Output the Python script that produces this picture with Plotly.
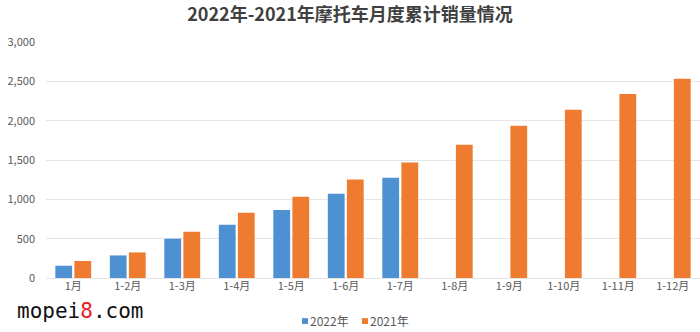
import plotly.graph_objects as go

# Monthly cumulative motorcycle sales (units shown on axis as plain numbers)
categories = ["1月", "1-2月", "1-3月", "1-4月", "1-5月", "1-6月",
              "1-7月", "1-8月", "1-9月", "1-10月", "1-11月", "1-12月"]
sales_2022 = [156, 287, 500, 677, 864, 1071, 1274, None, None, None, None, None]
sales_2021 = [216, 325, 588, 830, 1033, 1253, 1469, 1694, 1935, 2139, 2338, 2532]
y_ticks = [0, 500, 1000, 1500, 2000, 2500, 3000]
series_names = ["2022年", "2021年"]

FONT = "Noto Sans CJK SC"
BLUE = "#4E91D2"
ORANGE = "#EE7B2F"

fig = go.Figure()
fig.add_trace(go.Bar(name=series_names[0], x=categories, y=sales_2022,
                     marker=dict(color=BLUE, line=dict(width=0))))
fig.add_trace(go.Bar(name=series_names[1], x=categories, y=sales_2021,
                     marker=dict(color=ORANGE, line=dict(width=0))))

# compact legend below the axis: small colour squares + labels
legend_shapes = []
legend_notes = []
key_x = [0.3914, 0.4832]
for name, color, kx in zip(series_names, [BLUE, ORANGE], key_x):
    legend_shapes.append(dict(type="rect", xref="paper", yref="paper",
                              x0=kx, x1=kx + 0.0092, y0=-0.170, y1=-0.195,
                              fillcolor=color, line=dict(width=0)))
    legend_notes.append(dict(text=name, xref="paper", yref="paper",
                             x=kx + 0.0105, y=-0.182, xanchor="left", yanchor="middle",
                             showarrow=False, borderpad=0,
                             font=dict(family=FONT, size=12, color="#595959")))

fig.update_layout(
    width=700, height=332,
    margin=dict(l=46, r=0, t=42, b=54, autoexpand=False),
    paper_bgcolor="white", plot_bgcolor="white",
    barmode="group", bargap=0.3, bargroupgap=0.12,
    font=dict(family=FONT, size=11, color="#595959"),
    title=dict(text="<b>2022年-2021年摩托车月度累计销量情况</b>",
               x=0.5, xanchor="center", y=0.955, yanchor="middle",
               font=dict(family=FONT, size=18, color="#404040")),
    showlegend=False,
    xaxis=dict(showgrid=False, showline=False, ticks="", tickfont=dict(size=11),
               automargin=False),
    yaxis=dict(range=[0, 3000], tickvals=y_ticks, tickformat=",",
               showgrid=True, gridcolor="#E6E6E6", gridwidth=1,
               zeroline=True, zerolinecolor="#E6E6E6", zerolinewidth=1,
               showline=False, ticks="", ticklabelstandoff=10,
               tickfont=dict(size=11), automargin=False),
    shapes=legend_shapes,
    annotations=legend_notes + [dict(
        text="mopei<span style='color:#E8202A'>8</span>.com",
        xref="paper", yref="paper", x=-0.048, y=-0.079,
        xanchor="left", yanchor="top", showarrow=False,
        font=dict(family="DejaVu Sans Mono", size=21, color="#111111"))],
)

fig.write_html("out.html")
